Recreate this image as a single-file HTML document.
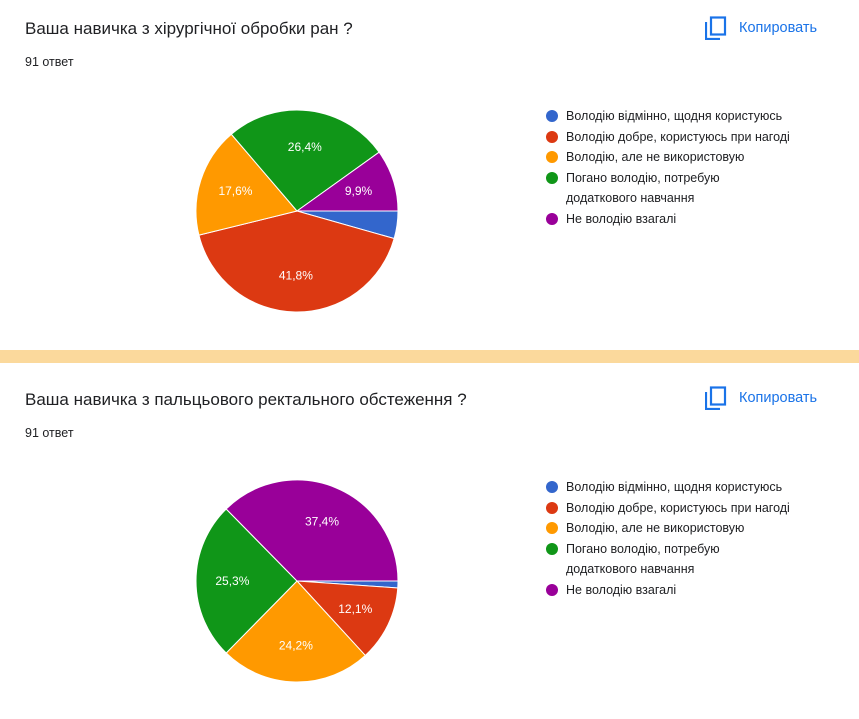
<!DOCTYPE html>
<html><head><meta charset="utf-8">
<style>
body{margin:0;width:859px;height:719px;background:#fff;font-family:"Liberation Sans",Arial,sans-serif;position:relative;overflow:hidden}
.band{position:absolute;left:0;top:350px;width:859px;height:13px;background:#fbd99c}
.title{position:absolute;left:25px;font-size:17px;color:#202124}
.count{position:absolute;left:25px;font-size:12.5px;color:#202124}
.copy{position:absolute;left:705px;display:flex;align-items:center;color:#1a73e8;font-size:14.5px}
.legend{position:absolute;left:546px;font-size:12.5px;color:#202124}
.li{position:relative;padding-left:20px;line-height:20.5px}
.li .d{position:absolute;left:0;top:4px;width:12px;height:12px;border-radius:50%}
svg{position:absolute;left:0;top:0}
</style></head><body>
<div class="band"></div>

<div class="title" style="top:19px">Ваша навичка з хірургічної обробки ран ?</div>
<div class="count" style="top:55px">91 ответ</div>
<div class="copy" style="top:16px"><svg style="position:static;margin-right:12px" width="22" height="24" viewBox="0 0 22 24"><path d="M1 6v17h14" fill="none" stroke="#1a73e8" stroke-width="2.2"/><rect x="6" y="1.5" width="14" height="17" fill="none" stroke="#1a73e8" stroke-width="2.2"/></svg>Копировать</div>

<div class="title" style="top:390px">Ваша навичка з пальцьового ректального обстеження ?</div>
<div class="count" style="top:426px">91 ответ</div>
<div class="copy" style="top:386px"><svg style="position:static;margin-right:12px" width="22" height="24" viewBox="0 0 22 24"><path d="M1 6v17h14" fill="none" stroke="#1a73e8" stroke-width="2.2"/><rect x="6" y="1.5" width="14" height="17" fill="none" stroke="#1a73e8" stroke-width="2.2"/></svg>Копировать</div>

<svg id="pies" width="859" height="719"></svg>
<div id="leg1" class="legend" style="top:106px"></div>
<div id="leg2" class="legend" style="top:477px"></div>

<script>
const categories = ["Володію відмінно, щодня користуюсь","Володію добре, користуюсь при нагоді","Володію, але не використовую","Погано володію, потребую додаткового навчання","Не володію взагалі"];
const legendLabels = ["Володію відмінно, щодня користуюсь","Володію добре, користуюсь при нагоді","Володію, але не використовую","Погано володію, потребую<br>додаткового навчання","Не володію взагалі"];
const colors = ["#3366cc","#dc3912","#ff9900","#109618","#990099"];
const series1 = [4,38,16,24,9];
const series2 = [1,11,22,23,34];
const ns="http://www.w3.org/2000/svg";
const svg=document.getElementById('pies');
function pie(values,cx,cy,r,name){
  const total=values.reduce((a,b)=>a+b,0);
  let a=90;
  values.forEach((v,i)=>{
    const sw=v/total*360;
    const a0=(a-90)*Math.PI/180, a1=(a+sw-90)*Math.PI/180;
    const x0=cx+r*Math.cos(a0),y0=cy+r*Math.sin(a0),x1=cx+r*Math.cos(a1),y1=cy+r*Math.sin(a1);
    const p=document.createElementNS(ns,'path');
    p.setAttribute('d',`M${cx},${cy}L${x0},${y0}A${r},${r} 0 ${sw>180?1:0} 1 ${x1},${y1}Z`);
    p.setAttribute('fill',colors[i]);p.setAttribute('stroke','#fff');p.setAttribute('stroke-width','1');
    
    
    svg.appendChild(p);
    const pct=v/total*100;
    if(pct>=5){
      const m=(a+sw/2-90)*Math.PI/180;
      const t=document.createElementNS(ns,'text');
      t.setAttribute('x',cx+r*0.64*Math.cos(m));t.setAttribute('y',cy+r*0.64*Math.sin(m)+4);
      t.setAttribute('text-anchor','middle');t.setAttribute('fill','#fff');t.setAttribute('font-size','12');
      t.setAttribute('font-family','Liberation Sans, Arial, sans-serif');
      t.textContent=pct.toFixed(1).replace('.',',')+'%';
      
      
      svg.appendChild(t);
    }
    a+=sw;
  });
}
pie(series1,297,211,101,'pie-1');
pie(series2,297,581,101,'pie-2');
function legend(id,name){
  const el=document.getElementById(id);
  
  
  categories.forEach((c,i)=>{
    const d=document.createElement('div');d.className='li';
    d.innerHTML=`<span class="d" style="background:${colors[i]}"></span>${legendLabels[i]}`;
    
    
    el.appendChild(d);
  });
}
legend('leg1','legend-1');legend('leg2','legend-2');
</script>
</body></html>
